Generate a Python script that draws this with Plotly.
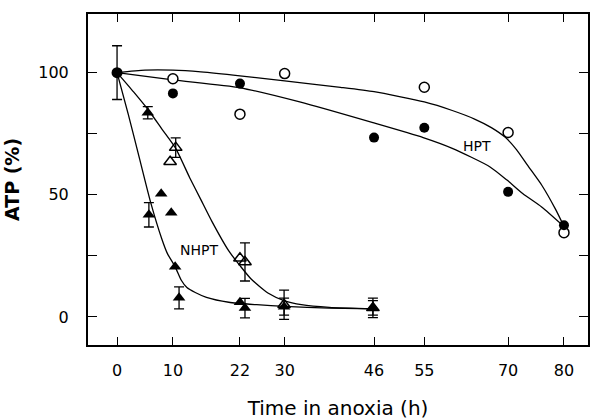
import plotly.graph_objects as go

# ---- data ----
ticks_x = [0, 10, 22, 30, 46, 55, 70, 80]
ticks_y = [0, 25, 50, 75, 100]
ticks_y_text = ["0", "", "50", "", "100"]

start_x = [0]
start_y = [100]
start_err = [11]

hpt_open_x = [10, 22, 30, 55, 70, 80]
hpt_open_y = [97.5, 83, 99.6, 94, 75.5, 34.5]
hpt_fill_x = [10, 22, 46, 55, 70, 80]
hpt_fill_y = [91.5, 95.5, 73.4, 77.4, 51.2, 37.5]

nhpt_fill_x = [7.9, 9.7, 10.4, 22.0]
nhpt_fill_y = [50.4, 42.6, 20.5, 6.0]
nhpt_fill_err_x = [5.5, 5.7, 11.1, 22.9, 29.9, 45.8]
nhpt_fill_err_y = [83.6, 41.8, 7.8, 3.6, 4.2, 3.7]
nhpt_fill_err = [2.5, 5, 4.5, 4, 3.5, 3]

nhpt_open_x = [9.5, 22.0]
nhpt_open_y = [63.5, 24]
nhpt_open_err_x = [10.5, 22.9, 29.9, 45.8]
nhpt_open_err_y = [69.3, 22.5, 5.0, 3.7]
nhpt_open_err = [4, 7.8, 6, 4]

# fitted curves
hpt_open_curve_x = [0, 5, 10, 15, 22, 30, 40, 46, 55, 60, 64, 67, 69.5, 71.5, 73.5, 76, 78.5, 80]
hpt_open_curve_y = [100, 101, 101, 100.3, 98.7, 96.6, 94, 92.2, 88, 84.5, 81, 77.5, 73.5, 68.5, 62, 54, 44, 37]
hpt_fill_curve_x = [0, 10, 22, 32.7, 45.8, 54.8, 60, 66.7, 69.8, 72.6, 76, 80]
hpt_fill_curve_y = [100, 97, 93.8, 88, 79.5, 73.4, 69, 61.5, 56, 50.5, 45, 37]
nhpt_open_curve_x = [0, 3, 5.5, 8, 10.5, 13, 15, 17, 20, 22, 24, 27, 30, 33, 38, 46]
nhpt_open_curve_y = [100, 92, 85, 77, 69, 57, 48, 39, 27, 21, 15.5, 9.8, 6.6, 5, 3.9, 3.3]
nhpt_fill_curve_x = [0, 2, 4, 6, 8, 9, 10.4, 11.5, 12.5, 14, 16, 20, 25, 30, 38, 46]
nhpt_fill_curve_y = [100, 83, 65, 47, 32, 26, 20.5, 15, 12, 10, 8, 6, 5, 4.3, 3.6, 3.3]

labels_text = ["HPT", "NHPT"]
labels_x = [64.4, 14.7]
labels_y = [70, 27.5]

FONT = "DejaVu Sans"
fig = go.Figure()

for cx, cy in [(hpt_open_curve_x, hpt_open_curve_y), (hpt_fill_curve_x, hpt_fill_curve_y),
               (nhpt_open_curve_x, nhpt_open_curve_y), (nhpt_fill_curve_x, nhpt_fill_curve_y)]:
    fig.add_trace(go.Scatter(x=cx, y=cy, mode="lines",
                             line=dict(color="black", width=1.3, shape="spline", smoothing=0.6),
                             hoverinfo="skip", showlegend=False))

err_style = dict(type="data", color="black", thickness=1.3, width=5)

# open triangles
fig.add_trace(go.Scatter(x=nhpt_open_err_x, y=nhpt_open_err_y, mode="markers",
                         error_y=dict(array=nhpt_open_err, **err_style),
                         marker=dict(symbol="triangle-up-open", size=11, color="black", line=dict(width=1.5)),
                         showlegend=False))
fig.add_trace(go.Scatter(x=nhpt_open_x, y=nhpt_open_y, mode="markers",
                         marker=dict(symbol="triangle-up-open", size=11, color="black", line=dict(width=1.5)),
                         showlegend=False))
# filled triangles
fig.add_trace(go.Scatter(x=nhpt_fill_err_x, y=nhpt_fill_err_y, mode="markers",
                         error_y=dict(array=nhpt_fill_err, **err_style),
                         marker=dict(symbol="triangle-up", size=11, color="black"),
                         showlegend=False))
fig.add_trace(go.Scatter(x=nhpt_fill_x, y=nhpt_fill_y, mode="markers",
                         marker=dict(symbol="triangle-up", size=11, color="black"),
                         showlegend=False))
# circles
fig.add_trace(go.Scatter(x=hpt_open_x, y=hpt_open_y, mode="markers",
                         marker=dict(symbol="circle", size=10, color="white", line=dict(color="black", width=1.5)),
                         showlegend=False))
fig.add_trace(go.Scatter(x=hpt_fill_x, y=hpt_fill_y, mode="markers",
                         marker=dict(symbol="circle", size=10, color="black"),
                         showlegend=False))
fig.add_trace(go.Scatter(x=start_x, y=start_y, mode="markers",
                         error_y=dict(array=start_err, **err_style),
                         marker=dict(symbol="circle", size=11, color="black"),
                         showlegend=False))

for t, x, y in zip(labels_text, labels_x, labels_y):
    fig.add_annotation(x=x, y=y, text=t, showarrow=False,
                       font=dict(family=FONT, size=14, color="black"))

axis_common = dict(showline=True, linecolor="black", linewidth=2, mirror="ticks",
                   ticks="inside", tickcolor="black", tickwidth=1.3, showgrid=False,
                   zeroline=False, automargin=False,
                   tickfont=dict(family=FONT, size=16, color="black"))

fig.update_xaxes(range=[-5.2, 84.3], tickvals=ticks_x, ticklen=8, ticklabelstandoff=10,
                 title=dict(text="Time in anoxia (h)", font=dict(family=FONT, size=20, color="black"), standoff=22),
                 **axis_common)
fig.update_yaxes(range=[-11.5, 124], tickvals=ticks_y, ticktext=ticks_y_text, ticklen=9,
                 ticklabelstandoff=14,
                 title=dict(text="<b>ATP (%)</b>", font=dict(family=FONT, size=19, color="black"), standoff=14),
                 **axis_common)

fig.update_layout(width=590, height=420, margin=dict(l=88, r=2, t=14, b=75),
                  plot_bgcolor="white", paper_bgcolor="white",
                  font=dict(family=FONT, color="black"))

fig.write_html("out.html", config={"displayModeBar": False},
               post_script="document.body.style.margin='0';document.body.style.overflow='hidden';")
